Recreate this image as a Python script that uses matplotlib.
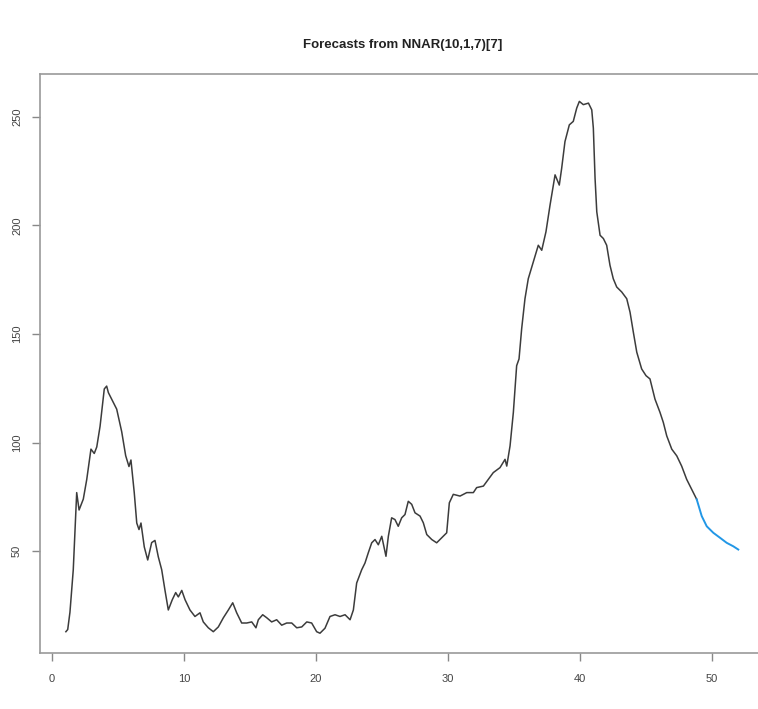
import matplotlib
matplotlib.use("Agg")
import matplotlib.pyplot as plt
from matplotlib import font_manager

# ---- data (x in weeks, daily series with frequency 7) ----
weeks_obs = [1.05, 1.19, 1.36, 1.61, 1.87, 2.05, 2.37, 2.63, 2.95, 3.20, 3.39, 3.64,
             3.96, 4.14, 4.27, 4.52, 4.90, 5.28, 5.58, 5.83, 5.98, 6.23, 6.42, 6.59,
             6.74, 6.99, 7.25, 7.55, 7.80, 8.05, 8.31, 8.56, 8.81, 9.11, 9.37, 9.57,
             9.83, 10.08, 10.45, 10.83, 11.21, 11.46, 11.84, 12.22, 12.60, 12.98, 13.36,
             13.69, 13.99, 14.37, 14.75, 15.13, 15.45, 15.63, 15.96, 16.27, 16.64, 17.02,
             17.40, 17.78, 18.16, 18.54, 18.92, 19.30, 19.67, 20.05, 20.30, 20.68, 21.06,
             21.44, 21.82, 22.20, 22.58, 22.83, 23.08, 23.46, 23.71, 23.96, 24.22, 24.47,
             24.72, 24.98, 25.30, 25.48, 25.73, 25.98, 26.23, 26.49, 26.74, 26.99, 27.25,
             27.50, 27.88, 28.13, 28.39, 28.77, 29.14, 29.52, 29.90, 30.10, 30.40, 30.91,
             31.42, 31.92, 32.17, 32.68, 33.05, 33.43, 33.94, 34.32, 34.45, 34.70, 34.95,
             35.20, 35.38, 35.58, 35.83, 36.08, 36.46, 36.84, 37.10, 37.42, 37.73, 38.11,
             38.43, 38.61, 38.86, 39.19, 39.49, 39.75, 39.95, 40.25, 40.64, 40.89, 41.01,
             41.14, 41.27, 41.52, 41.77, 42.02, 42.27, 42.52, 42.78, 43.16, 43.54, 43.79,
             44.04, 44.30, 44.67, 45.00, 45.30, 45.68, 46.06, 46.31, 46.57, 46.95, 47.33,
             47.70, 48.08, 48.58, 48.84]
values_obs = [13, 14, 22, 41.5, 77, 69, 74, 83, 97, 95, 98, 107.5,
              124.7, 126, 123, 120, 115.4, 105, 94, 89, 92, 77, 63, 60,
              63, 52, 46, 54, 55, 47.5, 41.5, 32, 23, 27.7, 31, 29,
              32, 27.7, 23, 20, 21.7, 17.5, 14.8, 13, 15.2, 19.4, 23,
              26.3, 21.7, 17, 17, 17.5, 14.8, 18.5, 20.8, 19.4, 17.5, 18.5,
              16, 17, 17, 14.8, 15.2, 17.5, 17, 13, 12.3, 14.6, 20,
              20.8, 20, 20.8, 18.5, 23, 35.4, 41.5, 44.6, 49.3, 53.9, 55.4,
              53, 56.9, 47.7, 56.9, 65.4, 64.6, 61.5, 65.4, 66.9, 73, 71.6,
              67.7, 66.2, 63.1, 57.7, 55.4, 53.9, 56.2, 58.5, 72.3, 76.2, 75.4,
              77, 77, 79.3, 80, 83.1, 86.2, 88.5, 92.3, 89.2, 98.5, 113.9,
              135.4, 138.5, 152.4, 166.2, 175.4, 183.1, 190.8, 188.5, 197, 209.3, 223.2,
              218.5, 226.2, 238.5, 246.2, 247.8, 253.9, 257, 255.5, 256.2, 253.1, 244.7,
              221.6, 206.2, 195.4, 193.9, 190.8, 181.6, 175.4, 171.6, 169.3, 166.2, 160,
              150.8, 141.6, 133.9, 130.8, 129.3, 120, 113.9, 109.3, 103.1, 97, 93.9,
              89.2, 83.1, 77, 73.9]
weeks_fc = [48.84, 49.22, 49.60, 50.10, 50.61, 51.11, 51.61, 51.99]
values_fc = [73.9, 66.2, 61.5, 58.5, 56.2, 53.9, 52.3, 50.8]

title = "Forecasts from NNAR(10,1,7)[7]"
xticks = [0, 10, 20, 30, 40, 50]
yticks = [50, 100, 150, 200, 250]

installed = {f.name for f in font_manager.fontManager.ttflist}
fam = "Liberation Sans Narrow" if "Liberation Sans Narrow" in installed else "Liberation Sans"

fig = plt.figure(figsize=(7.58, 7.09), dpi=100)
ax = fig.add_axes([40 / 758, 56 / 709, 726 / 758, 579 / 709])

ax.plot(weeks_obs, values_obs, color="#3c3c3c", lw=1.1)
ax.plot(weeks_fc, values_fc, color="#2297E6", lw=1.4)

ax.set_xlim(-0.91, 54.09)
ax.set_ylim(3.2, 269.6)
ax.set_xticks(xticks)
ax.set_yticks(yticks)
ax.set_xticklabels([str(t) for t in xticks], fontsize=8, family=fam, color="#444444")
ax.set_yticklabels([str(t) for t in yticks], fontsize=8, family=fam, color="#444444",
                   rotation=90, va="center")
ax.tick_params(axis="both", direction="out", length=6, width=1, color="#888888")
ax.tick_params(axis="x", pad=9)
ax.tick_params(axis="y", pad=7)
for s in ax.spines.values():
    s.set_color("#9a9a9a")
    s.set_linewidth(1.2)

fig.text((40 + 766) / 2 / 758, 1 - 45 / 709, title, ha="center", va="center",
         fontsize=9.5, fontweight="bold", family=fam, color="#222222")

fig.savefig("out.png", dpi=100)
